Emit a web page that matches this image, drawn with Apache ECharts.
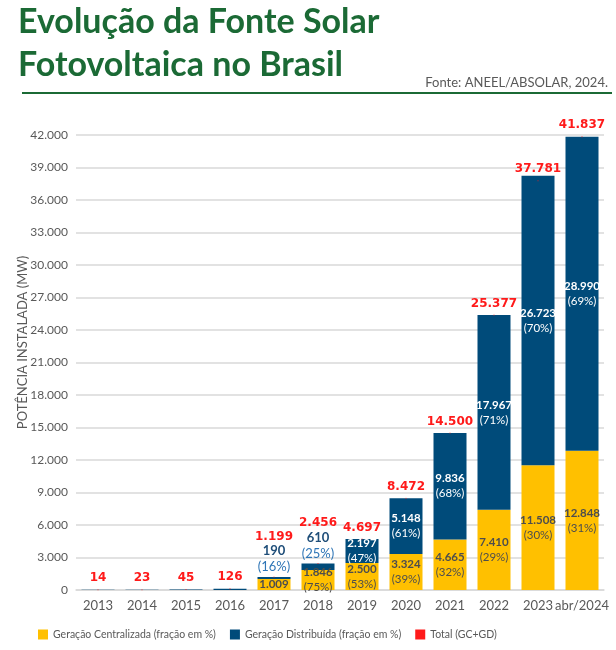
<!DOCTYPE html>
<html><head><meta charset="utf-8">
<script src="https://cdn.jsdelivr.net/npm/echarts@6/dist/echarts.min.js"></script>
<style>html,body{margin:0;padding:0;background:#fff}#c{width:616px;height:650px}</style>
</head><body><div id="c"></div>
<script>
const categories = ['2013','2014','2015','2016','2017','2018','2019','2020','2021','2022','2023','abr/2024'];
const gcValues = [0,0,0,0,1009,1846,2500,3324,4665,7410,11508,12848];
const gdValues = [14,23,45,126,190,610,2197,5148,9836,17967,26723,28990];
const totalValues = [14,23,45,126,1199,2456,4697,8472,14500,25377,37781,41837];
const gcPct = [null,null,null,null,null,75,53,39,32,29,30,31];
const gdPct = [null,null,null,null,16,25,47,61,68,71,70,69];
const yTicks = [0,3000,6000,9000,12000,15000,18000,21000,24000,27000,30000,33000,36000,39000,42000];

const fmt = v => String(v).replace(/\B(?=(\d{3})+(?!\d))/g, '.');
const FONT = 'Lato';
const GC = '#FFC000', GD = '#004B7A', RED = '#FF1A1A';

const gcData = gcValues.map((v,i) => {
  const d = {value: v};
  if (v > 0) {
    d.label = {show: true, position: 'inside',
      formatter: gcPct[i] != null ? '{b|' + fmt(v) + '}\n{p|(' + gcPct[i] + '%)}' : '{b|' + fmt(v) + '}'};
  } else d.label = {show: false};
  return d;
});
const gdData = gdValues.map((v,i) => {
  const d = {value: v};
  if (i < 4) d.label = {show: false};
  else if (i < 6) d.label = {show: true, position: 'top', distance: 2,
      formatter: '{b|' + fmt(v) + '}\n{p|(' + gdPct[i] + '%)}',
      rich: {b: {fontFamily: FONT, fontWeight: 'bold', fontSize: 13, color: '#1F4E79', lineHeight: 16},
             p: {fontFamily: FONT, fontSize: 13, color: '#2E75B6', lineHeight: 16}}};
  else d.label = {show: true, position: 'inside',
      formatter: '{b|' + fmt(v) + '}\n{p|(' + gdPct[i] + '%)}'};
  return d;
});
const totData = totalValues.map((v,i) => {
  const d = {value: v};
  if (i === 4 || i === 5) d.label = {offset: [0, -29]};
  return d;
});

const chart = echarts.init(document.getElementById('c'), null, {renderer: 'canvas'});
chart.setOption({
  animation: false,
  textStyle: {fontFamily: FONT},
  graphic: [
    {type: 'text', left: 18, top: 5, style: {text: 'Evolução da Fonte Solar', font: 'bold 34px Lato', fill: '#1B6A35'}},
    {type: 'text', left: 18, top: 48, style: {text: 'Fotovoltaica no Brasil', font: 'bold 34px Lato', fill: '#1B6A35'}},
    {type: 'text', right: 8, top: 76, style: {text: 'Fonte: ANEEL/ABSOLAR, 2024.', font: '13px Lato', fill: '#595959'}},
    {type: 'rect', shape: {x: 22, y: 92, width: 590, height: 2}, style: {fill: '#1B6A35'}}
  ],
  legend: {
    bottom: 5, left: 33, itemWidth: 10, itemHeight: 10, itemGap: 14, itemTextGap: 4, icon: 'rect',
    textStyle: {fontFamily: FONT, fontSize: 10.5, color: '#595959'},
    data: ['Geração Centralizada (fração em %)', 'Geração Distribuída (fração em %)', 'Total (GC+GD)']
  },
  grid: {left: 76, right: 12, top: 135, bottom: 60},
  xAxis: {
    type: 'category', data: categories,
    axisLine: {lineStyle: {color: '#D9D9D9', width: 1.5}}, axisTick: {show: false},
    axisLabel: {color: '#595959', fontSize: 13, fontFamily: FONT, margin: 9, interval: 0, hideOverlap: false}
  },
  yAxis: {
    type: 'value', min: 0, max: 42000, interval: 3000,
    name: 'POTÊNCIA INSTALADA (MW)', nameLocation: 'middle', nameGap: 47, nameRotate: 90,
    nameMoveOverlap: false,
    nameTextStyle: {color: '#595959', fontSize: 13, fontFamily: FONT, padding: [0, 0, 0, 40]},
    axisLabel: {color: '#595959', fontSize: 12, fontFamily: FONT, margin: 8, formatter: v => fmt(v)},
    splitLine: {lineStyle: {color: '#D9D9D9', width: 1.5}},
    axisLine: {show: false}, axisTick: {show: false}
  },
  series: [
    {name: 'Geração Centralizada (fração em %)', type: 'bar', stack: 't', barWidth: '75%',
     itemStyle: {color: GC}, data: gcData,
     label: {rich: {b: {fontFamily: FONT, fontWeight: 'bold', fontSize: 11.5, color: '#4D4D4D', lineHeight: 15},
                    p: {fontFamily: FONT, fontSize: 11.5, color: '#4D4D4D', lineHeight: 15}}}},
    {name: 'Geração Distribuída (fração em %)', type: 'bar', stack: 't',
     itemStyle: {color: GD}, data: gdData,
     label: {rich: {b: {fontFamily: FONT, fontWeight: 'bold', fontSize: 11.5, color: '#FFFFFF', lineHeight: 15},
                    p: {fontFamily: FONT, fontSize: 11.5, color: '#FFFFFF', lineHeight: 15}}}},
    {name: 'Total (GC+GD)', type: 'scatter', symbolSize: 1, itemStyle: {color: RED, opacity: 1},
     data: totData,
     label: {show: true, position: 'top', distance: 5, formatter: p => fmt(p.value),
             fontFamily: 'DejaVu Sans', fontWeight: 'bold', fontSize: 12, color: RED}}
  ]
});
</script></body></html>
